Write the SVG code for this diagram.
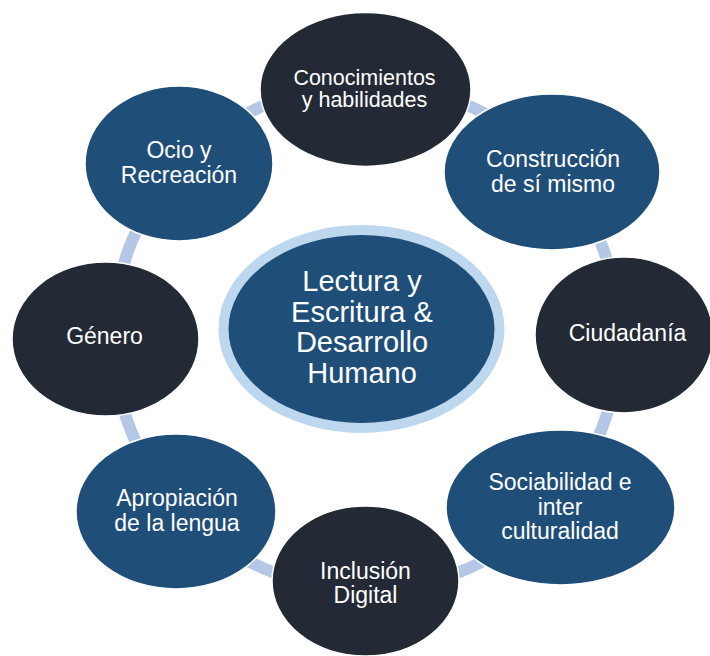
<svg xmlns="http://www.w3.org/2000/svg" width="710" height="656" viewBox="0 0 710 656">
<style>
.dark{fill:#232a35;stroke:#ffffff;stroke-width:1.5}
.blue{fill:#1f4e79;stroke:#ffffff;stroke-width:1.5}
text{font-family:"Liberation Sans",Arial,sans-serif;fill:#ffffff;text-anchor:middle;font-size:23px}
.sm{font-size:21.5px}
.big{font-size:29px}
</style>
<rect width="710" height="656" fill="#ffffff"/>
<g id="connectors">
<circle cx="366" cy="337" r="253" fill="none" stroke="#b4c7e7" stroke-width="12"/>
</g>
<g id="center">
<ellipse cx="361.5" cy="329" rx="138" ry="99" fill="#1f4e79" stroke="#bdd7ee" stroke-width="10"/>
<text class="big" x="362" y="291">Lectura y</text>
<text class="big" x="362" y="322">Escritura &amp;</text>
<text class="big" x="362" y="352">Desarrollo</text>
<text class="big" x="362" y="383">Humano</text>
</g>
<g id="conocimientos">
<ellipse class="dark" cx="365.5" cy="89.5" rx="105.5" ry="77"/>
<text class="sm" x="364.5" y="85">Conocimientos</text>
<text class="sm" x="364.5" y="107">y habilidades</text>
</g>
<g id="construccion">
<ellipse class="blue" cx="552" cy="172" rx="108" ry="78"/>
<text x="553" y="167">Construcción</text>
<text x="553" y="192">de sí mismo</text>
</g>
<g id="ciudadania">
<ellipse class="dark" cx="624" cy="335" rx="89" ry="78"/>
<text x="627.5" y="341">Ciudadanía</text>
</g>
<g id="sociabilidad">
<ellipse class="blue" cx="560.5" cy="507.5" rx="114.5" ry="77.5"/>
<text x="560" y="490">Sociabilidad e</text>
<text x="560" y="515">inter</text>
<text x="560" y="539">culturalidad</text>
</g>
<g id="inclusion">
<ellipse class="dark" cx="365.5" cy="581" rx="93.5" ry="75"/>
<text x="365.5" y="579">Inclusión</text>
<text x="365.5" y="603">Digital</text>
</g>
<g id="apropiacion">
<ellipse class="blue" cx="176" cy="511.5" rx="100" ry="77.5"/>
<text x="177" y="506">Apropiación</text>
<text x="177" y="530.5">de la lengua</text>
</g>
<g id="genero">
<ellipse class="dark" cx="105.5" cy="339" rx="93.5" ry="77"/>
<text x="104.5" y="344">Género</text>
</g>
<g id="ocio">
<ellipse class="blue" cx="179" cy="163.5" rx="94" ry="77.5"/>
<text x="179" y="158">Ocio y</text>
<text x="179" y="183">Recreación</text>
</g>
</svg>
